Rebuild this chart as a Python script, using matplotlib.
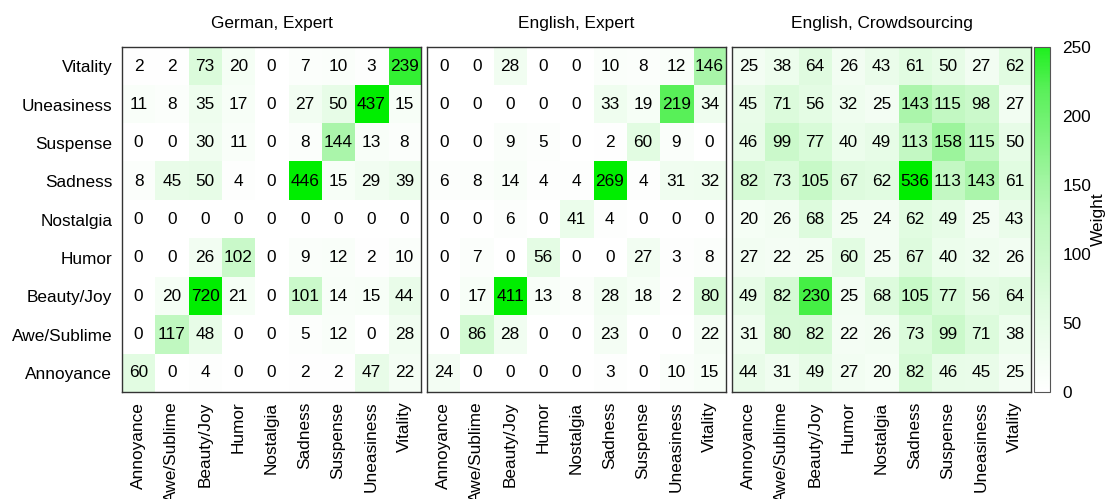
import matplotlib
matplotlib.use("Agg")
import matplotlib.pyplot as plt
import numpy as np
from matplotlib.colors import LinearSegmentedColormap

plt.rcParams['font.family'] = ['Liberation Sans', 'DejaVu Sans']

emotions = ['Annoyance', 'Awe/Sublime', 'Beauty/Joy', 'Humor', 'Nostalgia',
            'Sadness', 'Suspense', 'Uneasiness', 'Vitality']
titles = ['German, Expert', 'English, Expert', 'English, Crowdsourcing']

# rows: Annoyance (bottom) ... Vitality (top)
german_expert = [
    [60, 0, 4, 0, 0, 2, 2, 47, 22],
    [0, 117, 48, 0, 0, 5, 12, 0, 28],
    [0, 20, 720, 21, 0, 101, 14, 15, 44],
    [0, 0, 26, 102, 0, 9, 12, 2, 10],
    [0, 0, 0, 0, 0, 0, 0, 0, 0],
    [8, 45, 50, 4, 0, 446, 15, 29, 39],
    [0, 0, 30, 11, 0, 8, 144, 13, 8],
    [11, 8, 35, 17, 0, 27, 50, 437, 15],
    [2, 2, 73, 20, 0, 7, 10, 3, 239],
]
english_expert = [
    [24, 0, 0, 0, 0, 3, 0, 10, 15],
    [0, 86, 28, 0, 0, 23, 0, 0, 22],
    [0, 17, 411, 13, 8, 28, 18, 2, 80],
    [0, 7, 0, 56, 0, 0, 27, 3, 8],
    [0, 0, 6, 0, 41, 4, 0, 0, 0],
    [6, 8, 14, 4, 4, 269, 4, 31, 32],
    [0, 0, 9, 5, 0, 2, 60, 9, 0],
    [0, 0, 0, 0, 0, 33, 19, 219, 34],
    [0, 0, 28, 0, 0, 10, 8, 12, 146],
]
english_crowd = [
    [44, 31, 49, 27, 20, 82, 46, 45, 25],
    [31, 80, 82, 22, 26, 73, 99, 71, 38],
    [49, 82, 230, 25, 68, 105, 77, 56, 64],
    [27, 22, 25, 60, 25, 67, 40, 32, 26],
    [20, 26, 68, 25, 24, 62, 49, 25, 43],
    [82, 73, 105, 67, 62, 536, 113, 143, 61],
    [46, 99, 77, 40, 49, 113, 158, 115, 50],
    [45, 71, 56, 32, 25, 143, 115, 98, 27],
    [25, 38, 64, 26, 43, 61, 50, 27, 62],
]
matrices = [german_expert, english_expert, english_crowd]

# white -> green palette
cmap = LinearSegmentedColormap.from_list('wg', [
    (0.0, (1.0, 1.0, 1.0)),
    (0.25, (225/255, 252/255, 225/255)),
    (0.5, (188/255, 248/255, 188/255)),
    (0.6, (165/255, 245/255, 165/255)),
    (0.876, (90/255, 240/255, 90/255)),
    (0.92, (70/255, 240/255, 70/255)),
    (1.0, (30/255, 240/255, 30/255)),
])
cmap.set_over('#00ee00')

fig = plt.figure(figsize=(11.1, 4.99), dpi=100)
fs = 12.4
bottom, height = 0.2144, 0.6914
lefts = [0.1099, 0.3847, 0.6595]
width = 0.2694

for k, (mat, title) in enumerate(zip(matrices, titles)):
    ax = fig.add_axes([lefts[k], bottom, width, height])
    data = np.array(mat)
    im = ax.imshow(data, cmap=cmap, vmin=0, vmax=250, origin='lower', aspect='auto')
    for i in range(data.shape[0]):
        for j in range(data.shape[1]):
            ax.text(j, i, str(data[i, j]), ha='center', va='center', fontsize=fs, color='black')
    ax.set_xticks(range(len(emotions)))
    ax.set_xticklabels(emotions, rotation=90, fontsize=fs)
    if k == 0:
        ax.set_yticks(range(len(emotions)))
        ax.set_yticklabels(emotions, fontsize=fs)
    else:
        ax.set_yticks([])
    ax.tick_params(length=0, pad=7)
    ax.set_title(title, fontsize=fs, pad=14)
    for s in ax.spines.values():
        s.set_color('#333333')
        s.set_linewidth(1.0)

cax = fig.add_axes([0.9315, bottom, 0.0144, height])
cb = fig.colorbar(im, cax=cax, ticks=[0, 50, 100, 150, 200, 250])
cb.ax.tick_params(length=0, labelsize=fs, pad=9)
cb.outline.set_edgecolor('#555555')
cb.set_label('Weight', fontsize=fs, labelpad=0)

fig.savefig('out.png', dpi=100)
